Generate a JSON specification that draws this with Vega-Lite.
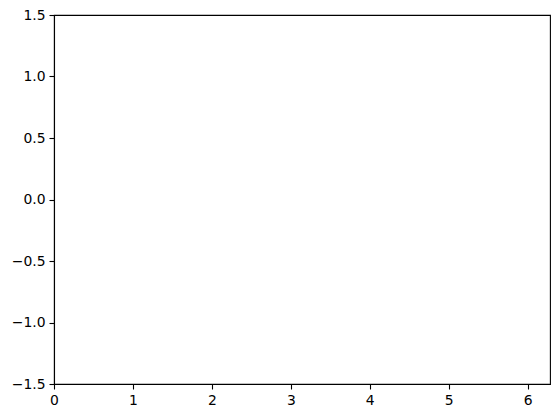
{
  "$schema": "https://vega.github.io/schema/vega-lite/v6.json",
  "width": 496,
  "height": 369,
  "autosize": "none",
  "padding": {"left": 54, "top": 15, "right": 9, "bottom": 34},
  "background": "white",
  "data": {"values": []},
  "mark": {"type": "line", "color": "#1f77b4"},
  "encoding": {
    "x": {
      "field": "x", "type": "quantitative",
      "scale": {"domain": [0, 6.283185], "nice": false, "zero": false},
      "axis": {"values": [0, 1, 2, 3, 4, 5, 6], "format": "d", "title": null, "grid": false}
    },
    "y": {
      "field": "y", "type": "quantitative",
      "scale": {"domain": [-1.5, 1.5], "nice": false, "zero": false},
      "axis": {"values": [-1.5, -1, -0.5, 0, 0.5, 1, 1.5], "format": ".1f", "title": null, "grid": false}
    }
  },
  "config": {
    "font": "DejaVu Sans",
    "view": {"stroke": "black", "strokeWidth": 1.1},
    "axis": {
      "domainColor": "black",
      "domainWidth": 1.1,
      "tickColor": "black",
      "tickWidth": 1.1,
      "tickSize": 5,
      "labelColor": "black",
      "labelFontSize": 13.9,
      "labelPadding": 4,
      "labelFlush": false,
      "labelOverlap": false,
      "labelBound": false,
      "labelFont": "DejaVu Sans"
    }
  }
}
